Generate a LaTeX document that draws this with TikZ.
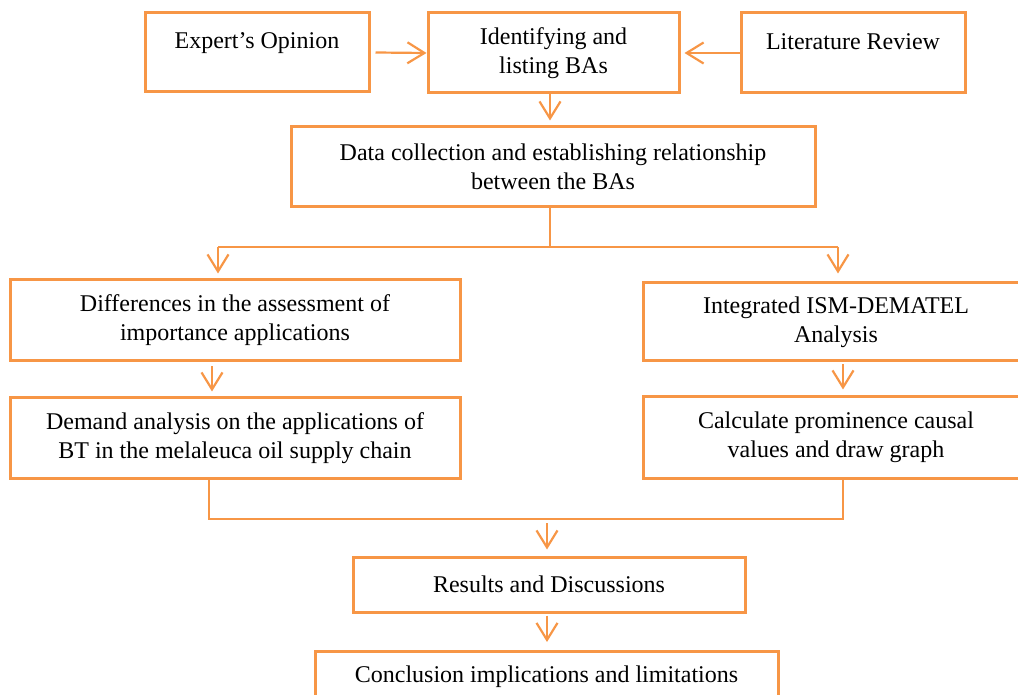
\documentclass[tikz,border=0pt]{standalone}
\usepackage{fontspec}
\setmainfont{Liberation Serif}
\usetikzlibrary{arrows.meta,calc}
\definecolor{flowor}{HTML}{F79646}
\begin{document}
\begin{tikzpicture}[x=0.5pt,y=-0.5pt,
  stepbox/.style={draw=flowor, line width=1.5pt, align=center, inner sep=0pt,
    font=\fontsize{12pt}{14.5pt}\selectfont},
  link/.style={draw=flowor, line width=1.1pt},
  arr/.style={link, -{Straight Barb[length=8.5pt,width=10.5pt]}}]
\useasboundingbox (0,0) rectangle (1018,695);

% boxes (positions in pixel-like units)
\node[stepbox, minimum width=112pt, minimum height=39.5pt] (b1) at (257,52.5) {Expert’s Opinion\\[-7pt]\strut};
\node[stepbox, minimum width=125.5pt, minimum height=40pt] (b2) at (553.5,53) {Identifying and\\listing BAs};
\node[stepbox, minimum width=112pt, minimum height=40pt] (b3) at (853,53) {Literature Review\\[-7pt]\strut};
\node[stepbox, minimum width=262pt, minimum height=40pt] (b4) at (553,167) {Data collection and establishing relationship\\between the BAs};
\node[stepbox, minimum width=225pt, minimum height=40.5pt] (b5) at (235,320.5) {Differences in the assessment of\\importance applications};
\node[stepbox, minimum width=193pt, minimum height=39pt] (b6) at (836,322) {Integrated ISM-DEMATEL\\Analysis};
\node[stepbox, minimum width=225pt, minimum height=40pt] (b7) at (235,438) {Demand analysis on the applications of\\BT in the melaleuca oil supply chain};
\node[stepbox, minimum width=193pt, minimum height=40.5pt] (b8) at (836,437.5) {Calculate prominence causal\\values and draw graph};
\node[stepbox, minimum width=196pt, minimum height=27.5pt] (b9) at (549,584.5) {Results and Discussions};
\node[stepbox, minimum width=231.5pt, minimum height=25pt] (b10) at (546.5,676.5) {Conclusion implications and limitations};

% junction points
\coordinate (split) at (550,247);
\coordinate (splitL) at (218,247);
\coordinate (splitR) at (838,247);
\coordinate (joinL) at (209,519);
\coordinate (joinR) at (843,519);

% inputs to the list of BAs
\draw[arr] ($(b1.east)+(5,0)$) -- (b2.west);
\draw[arr] (b3.west) -- ($(b2.east)+(4,0)$);
\draw[arr, shorten >=2.5pt] ($(b2.south)+(-3.5,0)$) -- ($(b4.north)+(-3,0)$);

% branching into the two analyses
\draw[link] ($(b4.south)+(-3,0)$) -- (split);
\draw[link] (splitL) -- (splitR);
\draw[arr, shorten >=2.5pt] (splitL) -- (splitL |- b5.north);
\draw[arr, shorten >=4pt] (splitR) -- (splitR |- b6.north);
\draw[arr, shorten <=2pt, shorten >=2.5pt] (b5.south -| 212,0) -- (b7.north -| 212,0);
\draw[arr, shorten <=1pt, shorten >=3pt] (b6.south -| 843,0) -- (b8.north -| 843,0);

% merging into results
\draw[link] (b7.south -| joinL) -- (joinL) -- (joinR) -- (b8.south -| joinR);
\draw[arr, shorten >=3pt] ($(joinL -| 547,0)+(0,4)$) -- (b9.north -| 547,0);
\draw[arr, shorten <=1pt, shorten >=4pt] (b9.south -| 547,0) -- (b10.north -| 547,0);
\end{tikzpicture}
\end{document}
